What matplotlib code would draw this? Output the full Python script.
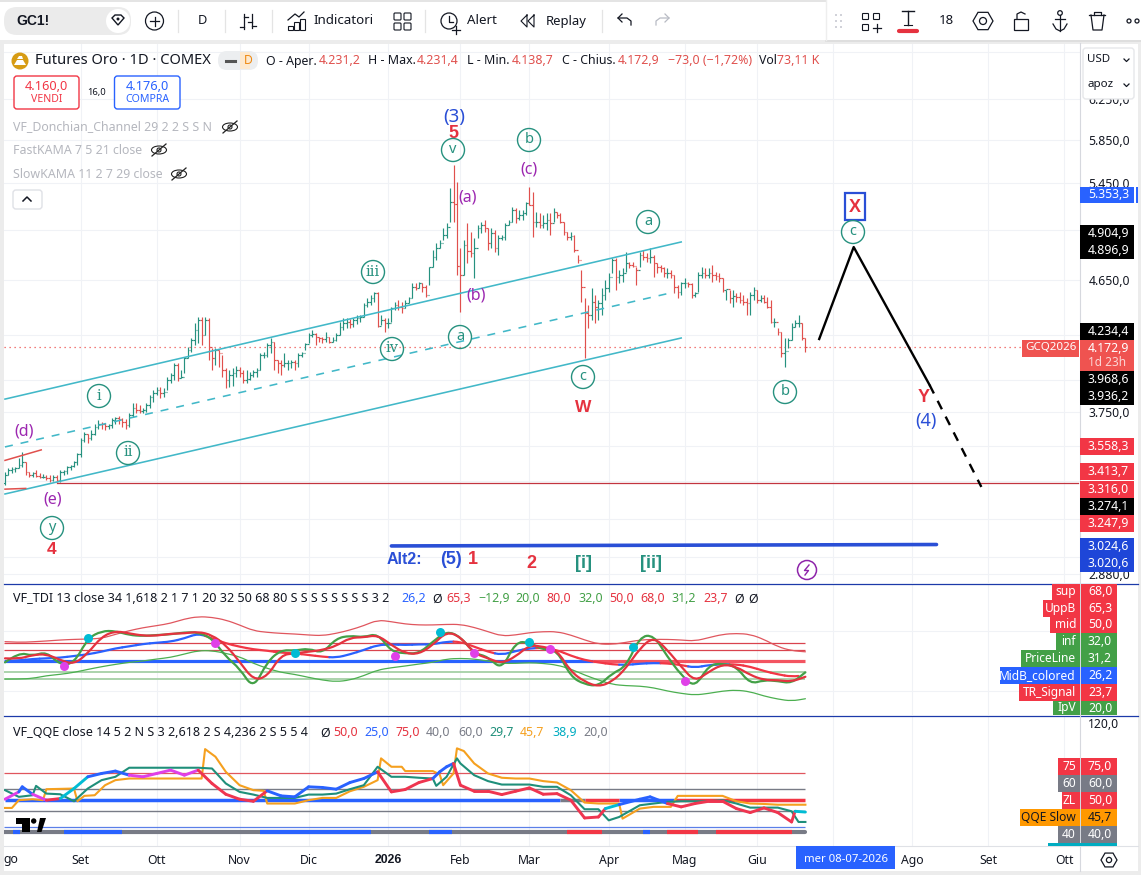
import numpy as np
import matplotlib
matplotlib.use("Agg")
import matplotlib.pyplot as plt
from matplotlib.patches import Rectangle, Circle, Ellipse, Polygon, FancyBboxPatch, RegularPolygon, PathPatch
from matplotlib.path import Path
from matplotlib.ticker import NullLocator, NullFormatter

plt.rcParams['font.family'] = ['Noto Sans', 'DejaVu Sans']

W, H = 1141, 875

# daily bars
highs = [3401,3420,3430,3430,3477,3515,3458,3401,3401,3411,
         3392,3388,3382,3382,3382,3382,3411,3411,3434,3440,
         3464,3505,3592,3630,3620,3640,3676,3701,3690,3684,
         3680,3711,3721,3725,3711,3705,3742,3807,3807,3793,
         3772,3803,3856,3887,3908,3908,3898,3973,3999,4061,
         4065,4016,4105,4173,4230,4335,4382,4382,4382,4370,
         4162,4162,4150,4117,4028,4016,4028,4044,4039,4016,
         4016,4005,4016,4028,4128,4139,4195,4230,4207,4083,
         4083,4128,4083,4083,4083,4132,4139,4195,4264,4288,
         4264,4241,4241,4276,4241,4241,4264,4347,4370,4370,
         4363,4370,4394,4394,4479,4516,4541,4565,4565,4394,
         4370,4370,4454,4491,4503,4491,4503,4528,4628,4628,
         4641,4628,4615,4755,4887,4940,4967,5062,5105,5405,
         5615,5465,4900,4967,5105,5035,4981,5090,5119,5133,
         5062,5062,5049,5008,5008,5105,5133,5245,5231,5217,
         5217,5288,5420,5376,5203,5189,5175,5189,5189,5231,
         5203,5189,5119,5035,5035,5008,4847,4730,4516,4467,
         4590,4541,4504,4590,4653,4704,4820,4820,4730,4742,
         4874,4794,4794,4755,4874,4887,4860,4906,4847,4781,
         4768,4755,4742,4730,4691,4615,4641,4666,4641,4628,
         4565,4717,4755,4742,4742,4768,4717,4704,4666,4578,
         4578,4578,4553,4565,4541,4516,4565,4603,4578,4541,
         4541,4528,4504,4370,4300,4276,4230,4230,4335,4358,
         4394,4335,4231.4]
lows = [3326,3382,3392,3401,3420,3430,3382,3373,3373,3370,
        3364,3364,3358,3344,3350,3344,3344,3382,3388,3411,
        3430,3440,3486,3572,3566,3582,3610,3650,3650,3644,
        3650,3656,3680,3680,3660,3650,3660,3721,3742,3742,
        3742,3752,3772,3814,3856,3835,3846,3887,3930,3951,
        3947,3962,3995,4094,4139,4184,4195,4184,4253,4083,
        4016,4050,4039,3973,3898,3908,3914,3973,3973,3930,
        3930,3951,3973,3973,4016,4094,4105,4128,4016,3995,
        3984,4039,4016,4028,4016,4039,4105,4150,4195,4241,
        4184,4207,4195,4207,4195,4207,4212,4253,4288,4300,
        4300,4311,4330,4347,4382,4454,4466,4491,4311,4323,
        4276,4300,4347,4430,4430,4406,4442,4479,4516,4578,
        4590,4565,4528,4615,4755,4807,4900,4967,4981,5119,
        5119,4691,4418,4691,4781,4834,4666,4981,5022,5035,
        4887,4900,4874,4847,4967,4967,5090,5119,5105,5133,
        5133,5175,5260,4995,5076,5062,5062,5049,5008,5119,
        5147,5105,5008,4967,4967,4874,4781,4491,4095,4300,
        4358,4335,4358,4394,4504,4565,4704,4578,4628,4641,
        4717,4742,4755,4615,4755,4807,4794,4781,4678,4704,
        4717,4678,4666,4666,4553,4516,4541,4590,4603,4516,
        4528,4565,4666,4666,4666,4641,4653,4641,4565,4504,
        4479,4455,4491,4479,4467,4394,4394,4504,4479,4491,
        4479,4443,4335,4311,4253,4106,4039,4162,4219,4311,
        4311,4219,4138.7]
closes = [3382,3411,3415,3420,3440,3458,3401,3382,3392,3377,
          3373,3373,3368,3358,3373,3354,3401,3407,3426,3434,
          3458,3500,3582,3620,3592,3620,3660,3680,3676,3664,
          3670,3701,3711,3707,3690,3670,3731,3772,3762,3758,
          3762,3793,3846,3866,3887,3866,3876,3951,3984,4050,
          3962,3973,4094,4150,4218,4288,4358,4253,4358,4173,
          4094,4150,4128,4016,3951,3984,3995,4016,3995,3951,
          3956,3984,4005,4016,4117,4117,4184,4207,4083,4061,
          4050,4061,4061,4072,4061,4117,4128,4191,4253,4260,
          4241,4230,4223,4241,4207,4218,4253,4311,4335,4347,
          4330,4358,4370,4382,4466,4491,4516,4553,4316,4358,
          4335,4335,4442,4466,4454,4442,4479,4516,4602,4590,
          4628,4603,4541,4750,4834,4900,4940,5008,5076,5288,
          5270,4760,4691,4927,4880,4860,4900,5062,5090,5062,
          4940,5022,4900,4981,4990,5090,5119,5217,5147,5175,
          5189,5274,5262,5119,5119,5090,5105,5133,5105,5203,
          5175,5119,5035,4995,5000,4887,4807,4603,4406,4394,
          4491,4455,4479,4541,4590,4678,4807,4678,4690,4704,
          4781,4768,4760,4730,4847,4830,4820,4834,4780,4755,
          4742,4704,4710,4691,4603,4565,4628,4630,4620,4541,
          4558,4691,4704,4691,4704,4691,4680,4670,4578,4585,
          4516,4530,4522,4504,4491,4479,4541,4578,4504,4516,
          4491,4455,4346,4346,4276,4128,4140,4219,4311,4335,
          4338,4230,4172.9]

month_bars = [22, 44, 68, 88, 111, 132, 152, 175, 197, 218, 240, 263, 285, 307]
month_labels = ['Set', 'Ott', 'Nov', 'Dic', '2026', 'Feb', 'Mar', 'Apr', 'Mag', 'Giu', '', 'Ago', 'Set', 'Ott']

price_ticks = [6750, 6250, 5850, 5450, 5050, 4650, 4250, 3950, 3750, 3550, 3350, 3150, 2960, 2880]
price_labels = ['', '6.250,0', '5.850,0', '5.450,0', '', '4.650,0', '', '', '3.750,0', '', '', '', '', '2.880,0']

# drawings on the price pane
channel_bars = [0, 196]
channel_upper = [3830, 4951]
channel_lower = [3280, 4232]
channel_mid_bars = [0, 194]
channel_mid = [3542, 4562]
d_line_bars = [0, 10.5]
d_line = [3465, 3525]
e_line_bars = [0, 6]
e_line = [3306, 3310]
support_bars = [15, 311]
support_level = [3338, 3338]
alt_bars = [112, 270]
alt_level = [3013, 3020]
proj_bars = [236, 246, 268]
proj_price = [4225, 4910, 3919]
proj_dash_bars = [268, 283]
proj_dash_price = [3919, 3318]
last_price = 4172.9
last_line_end = 295

# VF_TDI, one reading every 4 bars
tdi_bars = list(range(0, 233, 4))
tdi_upper = [82.2,81,82,83.3,85,86,86.6,87.7,94.4,100.5,105.5,108.9,112.8,120,124,122.8,118.3,110,100.5,97.7,
             96,95,93.3,92.2,96,101.6,108.9,118.3,115.5,111.6,110,
             110,111,111,106,98.9,91.6,93.3,97.2,98.9,98.9,93.3,85,78.3,77.7,81,85,86,86,85,83.3,88.9,94.4,96,94.4,86,73.8,67.2,65.3]
tdi_lower = [19.9,19.9,21,25.5,27.7,31,36,40.5,44.4,47.7,50,53.3,56,61.6,67.2,67.2,62.7,57.2,46,37.7,
             31,27.7,22.7,18.2,15.5,18.2,25.5,35,38.8,41.6,45,
             47.7,53.3,54.4,53.3,50,46,46,47.1,46,43.3,36.6,26.6,18.2,11,8.8,8.2,5.4,-0.1,-4,-6.8,-4,-0.1,1.6,-1.2,-8.4,-13.5,-16.8,-12.9]
tdi_mid = [49.9,51,53.3,54.4,55.5,58.3,61.1,65.5,71,74.4,78.3,80.5,82.2,87.7,96,87.7,79.4,73.8,69.4,67.2,
           63.8,62.7,60,57.2,55.5,61.1,68.3,76.6,77.7,76.6,77.7,
           77.7,82.2,82.2,73.8,65.5,60,66.6,71,72.2,68.3,58.8,51.6,47.7,44.4,43.3,45.5,46.6,46,43.3,38.8,43.3,44.4,44.4,40.5,33.3,27.7,23.8,26.2]
tdi_price = [47.7,64.4,58.3,65.5,43.3,46,87.7,100,100,93.3,91.6,93.3,94.4,97.7,97.7,87.7,57.2,37.7,3.2,48.8,
             68.3,67.2,71,62.7,87.7,92.2,89.4,96,65.5,62.7,62.7,
             82,100,90.5,62.7,57.2,35,82,81,68.3,68.3,23.8,11,8.2,29.4,40.5,90.5,93.3,57.2,26.6,5.4,43.3,46,40.5,11.6,18.2,16.6,12.7,31.2]
tdi_signal = [54.4,53.3,60,61.6,51.6,44.4,62.7,90.5,100,96,92.2,92.2,95.5,96,98.9,93.3,76.6,48.8,18.2,23.8,
              60,62.7,65.5,68.3,75,88.9,89.4,93.3,76.6,62.7,61.6,
              76.6,98.9,90.5,62.7,54.4,46,57.2,76.6,73.8,68.3,32.2,15.5,7.1,15.5,37.7,71,90.5,68.3,40.5,15.5,32.2,44.4,40.5,26.6,18.2,18.2,15.5,23.7]
tdi_cross_up_bars = [24, 84, 126, 152, 182]
tdi_cross_up = [88.8, 62.7, 98.9, 81, 73.8]
tdi_cross_dn_bars = [17, 61, 113, 136, 158, 197]
tdi_cross_dn = [41.6, 79.4, 58.3, 62.7, 69.4, 16]

# VF_QQE
rsi_bars = [0,4,5,8,12,16,20,24,28,32,36,40,44,48,52,56,60,64,68,72,76,80,84,88,92,96,100,104,108,112,
            116,120,124,126,128,130,132,136,140,144,148,152,156,160,164,168,172,174,178,184,187,192,196,200,204,208,212,216,220,224,228,229,232]
rsi_ma = [50.8,57.6,62.3,55.4,49.9,51.4,60.7,71.6,74.7,76.9,73.1,71.6,74.7,77.8,73.1,77.8,65.4,55.4,50.8,48.9,
          58.6,53.9,53,62.3,61.7,60.1,66.3,70,76.2,57.6,59.8,66.3,70,76.2,80.9,84,63.8,58.2,58.2,55.1,
          58.2,61.3,55.4,56,49.9,33.4,34.3,42.1,45.8,50.8,53,46.8,43.7,46.8,48.9,48.9,42.1,38.4,42.7,38.4,29.7,39.6,38.9]
rsi_state_ends = [3.5, 8, 11, 17, 22, 34, 57.5, 75, 106, 108.5, 123.6, 130, 174, 178, 192, 229, 233]
rsi_state_colors = ['#e040e8', '#2962ff', '#e040e8', '#ef3550', '#00bcd4', '#2962ff', '#e040e8', '#ef3550', '#2962ff',
                    '#e040e8', '#ef3550', '#2962ff', '#ef3550', '#00bcd4', '#2962ff', '#ef3550', '#00bcd4']
qqe_fast_bars = [0,4,8,9,12,16,20,24,28,32,36,40,44,48,52,56,60,64,68,72,76,80,84,88,92,96,100,104,108,112,
                 116,120,124,125,128,131,132,136,140,144,148,152,156,160,164,168,172,175,178,184,188,192,196,200,204,208,212,216,220,224,228,230,232]
qqe_fast = [59.2,53,54.5,63.2,56,55.4,48.9,60.7,68.5,71.6,80,80,80,80,80,80,79.3,65.4,57.6,55.1,
            52,52,52,55.1,55.1,56,60.1,63.8,80.9,71.6,71.6,70.7,70,63.2,71.6,88.7,84,73.1,67.6,64.4,
            64.4,64.4,62.3,62.3,54.5,41.5,41.5,31.2,34.3,45.2,46.8,48.3,48.9,48.9,48.9,49.9,46.8,43,43,43,39.6,29.7,29.7]
qqe_slow_bars = [0,2,4,8,11,12,20,21,23,26,29,32,36,40,44,48,52,57,58,61,64,68,72,75,76,84,88,92,96,100,
                 104,108,109,112,115,116,120,124,126,127,130,131,133,136,140,144,148,152,156,160,164,168,172,178,179,184,188,193,195,200,
                 204,208,212,216,220,224,232]
qqe_slow = [42.7,42.7,49.9,50.8,49.9,60.1,60.7,48.9,53.9,54.5,63.8,68.5,70,70,70,70,70,70,97.3,90.2,
            76.2,63.8,59.2,58.6,46.8,46.8,49.9,52,52,58.2,62.3,68.5,88.7,80.9,80.9,76.9,76.9,76.9,73.8,63.8,
            74.7,98,95.5,84,74.7,70.7,70,70,67.6,66.3,59.2,47.7,46.8,46.8,32.8,42.1,43.7,43.7,53.9,53.9,
            53.9,53.9,48.9,46.8,46.4,45.7,45.7]
# colour stretches of the 50 line and of the bottom strip, as (first bar, last bar)
zl_blue = [(0, 161), (178, 194)]
zl_gray = [(161, 168)]
zl_red = [(168, 178), (194, 232)]
strip_blue = [(2.4, 4.3), (17, 34), (74, 106), (123, 129.5), (185, 187)]
strip_red = [(163, 173), (192, 201), (206, 228)]

TEAL = '#26917f'
RED = '#e0504d'
CYAN = '#42b8c8'
GRID = '#f0f2f6'
PANE_LINE = '#1c3aa9'
BOLD = ['Liberation Sans', 'DejaVu Sans']

fig = plt.figure(figsize=(W / 100, H / 100), dpi=100, facecolor='white')


def px_axes(x0, y0, x1, y1, **kw):
    return fig.add_axes([x0 / W, 1 - y1 / H, (x1 - x0) / W, (y1 - y0) / H], **kw)


def bar_x(x):
    return (x - 5) / 3.45


def clean(ax):
    for s in ax.spines.values():
        s.set_visible(False)
    ax.set_xlim(bar_x(4), bar_x(1080))
    ax.set_xticks(month_bars)
    ax.grid(axis='x', color=GRID, lw=0.8)
    ax.set_axisbelow(True)
    ax.tick_params(length=0)
    ax.set_xticklabels([])


def curve(ax, xs, ys, color, lw, z):
    # rounded corners: each reading is a quadratic control point
    pts = np.column_stack((xs, ys))
    verts = [pts[0]]
    codes = [Path.MOVETO]
    for j in range(1, len(pts) - 1):
        verts += [pts[j], (pts[j] + pts[j + 1]) / 2]
        codes += [Path.CURVE3, Path.CURVE3]
    verts.append(pts[-1])
    codes.append(Path.LINETO)
    ax.add_patch(PathPatch(Path(verts, codes), facecolor='none', edgecolor=color, lw=lw, zorder=z, capstyle='round'))


# price pane
ax = px_axes(4, 42, 1080, 583)
clean(ax)
ax.set_yscale('log')
ax.set_ylim(2836, 6864)
ax.yaxis.set_minor_locator(NullLocator())
ax.yaxis.set_minor_formatter(NullFormatter())
ax.yaxis.tick_right()
ax.set_yticks(price_ticks)
ax.set_yticklabels(price_labels, fontsize=8.8, color='#131722')
ax.tick_params(axis='y', length=0, pad=6)
ax.grid(axis='y', color=GRID, lw=0.8)

n = len(closes)
bars = np.arange(n)
closes_a = np.array(closes)
opens = np.r_[3340, closes_a[:-1]]
opens[-1] = 4231.2
colors = [TEAL if c >= o else RED for o, c in zip(opens, closes_a)]
ax.vlines(bars, lows, highs, colors=colors, lw=0.85, zorder=3)
ax.hlines(opens, bars - 0.45, bars, colors=colors, lw=0.85, zorder=3)
ax.hlines(closes_a, bars, bars + 0.45, colors=colors, lw=0.85, zorder=3)

ax.plot(channel_bars, channel_upper, color=CYAN, lw=1.15, zorder=4)
ax.plot(channel_bars, channel_lower, color=CYAN, lw=1.15, zorder=4)
ax.plot(channel_mid_bars, channel_mid, color=CYAN, lw=1.15, ls=(0, (5, 5)), zorder=4)
ax.plot(d_line_bars, d_line, color=RED, lw=1.1, zorder=4)
ax.plot(e_line_bars, e_line, color=RED, lw=1.1, zorder=4)
ax.plot(support_bars, support_level, color='#c2343f', lw=0.9, zorder=4)
ax.plot(alt_bars, alt_level, color='#2a4fd6', lw=2.6, zorder=4, solid_capstyle='round')
ax.plot(proj_bars, proj_price, color='black', lw=1.7, zorder=5)
ax.plot(proj_dash_bars, proj_dash_price, color='black', lw=1.7, ls=(0, (4, 3.5)), zorder=5)
ax.hlines(last_price, bar_x(4), last_line_end, colors='#ef5350', lw=0.9, ls=(0, (1, 3)), zorder=2)

# TDI pane
ax2 = px_axes(4, 584, 1080, 715)
clean(ax2)
ax2.set_ylim(-40, 178.3)
ax2.set_yticks([0, 100])
ax2.set_yticklabels([])
ax2.grid(axis='y', color=GRID, lw=0.8)
x_end = n - 1
for lev, col, lw in [(80, '#d9434e', 0.9), (68, '#d9434e', 0.9), (32, '#a5d0a6', 1.3), (20, '#a5d0a6', 1.3)]:
    ax2.hlines(lev, bar_x(4), x_end, colors=col, lw=lw, zorder=2)
ax2.hlines(50, bar_x(4), 170.5, colors='#2962ff', lw=2.3, zorder=2)
ax2.hlines(50, 170.5, x_end, colors='#f23645', lw=2.3, alpha=0.85, zorder=2)
curve(ax2, tdi_bars, tdi_upper, '#e0565e', 0.9, 3)
curve(ax2, tdi_bars, tdi_lower, '#4caf50', 0.9, 3)
for i in range(1, len(tdi_bars) - 1):
    # same rounding as curve(), one piece per reading so the colour can change
    x0, x1, x2 = tdi_bars[i - 1:i + 2]
    y0, y1, y2 = tdi_mid[i - 1:i + 2]
    p = Path([((x0 + x1) / 2, (y0 + y1) / 2), (x1, y1), ((x1 + x2) / 2, (y1 + y2) / 2)], [Path.MOVETO, Path.CURVE3, Path.CURVE3])
    col = '#2962ff' if y2 >= y0 else '#f23645'
    ax2.add_patch(PathPatch(p, facecolor='none', edgecolor=col, lw=1.6, zorder=4, capstyle='round'))
curve(ax2, tdi_bars, tdi_price, '#43a047', 1.6, 5)
curve(ax2, tdi_bars, tdi_signal, '#e5323f', 1.6, 6)
ax2.scatter(tdi_cross_up_bars, tdi_cross_up, s=42, color='#00bcd4', zorder=7, lw=0)
ax2.scatter(tdi_cross_dn_bars, tdi_cross_dn, s=42, color='#e040e8', zorder=7, lw=0)

# QQE pane
ax3 = px_axes(4, 716, 1080, 846)
clean(ax3)
ax3.set_ylim(7.4, 128)
ax3.set_yticks([])
ax3.tick_params(axis='x', pad=6, labelsize=8.8, labelcolor='#131722', length=0)
ax3.set_xticklabels(month_labels)
ax3.get_xticklabels()[4].set_fontweight('bold')
ax3.get_xticklabels()[4].set_family(BOLD)
ax3.hlines(75, bar_x(4), x_end, colors='#e0565e', lw=0.9, zorder=2)
ax3.hlines([60, 40], bar_x(4), x_end, colors='#787b86', lw=1.0, zorder=2)
ax3.hlines(25, bar_x(4), x_end, colors='#5b7fe8', lw=0.9, zorder=2)
for spans, col in [(zl_blue, '#2962ff'), (zl_gray, '#787b86'), (zl_red, '#f23645')]:
    for a, b in spans:
        ax3.plot([a, b], [50, 50], color=col, lw=2.5, zorder=2, solid_capstyle='butt')
ax3.plot([bar_x(4), x_end], [20, 20], color='#787b86', lw=3, zorder=2, solid_capstyle='round')
for spans, col in [(strip_blue, '#2962ff'), (strip_red, '#f23645')]:
    for a, b in spans:
        ax3.plot([a, b], [20, 20], color=col, lw=3, zorder=3, solid_capstyle='butt')
ax3.plot(qqe_slow_bars, qqe_slow, color='#f5a01f', lw=1.5, zorder=4)
ax3.plot(qqe_fast_bars, qqe_fast, color='#1f8f7a', lw=1.5, zorder=5)
for i in range(len(rsi_bars) - 1):
    mid = (rsi_bars[i] + rsi_bars[i + 1]) / 2
    col = rsi_state_colors[np.searchsorted(rsi_state_ends, mid)]
    ax3.plot(rsi_bars[i:i + 2], rsi_ma[i:i + 2], color=col, lw=2.1, zorder=6, solid_capstyle='round')

# overlay in screen pixels for the app chrome and the wave labels
ui = fig.add_axes([0, 0, 1, 1], zorder=20)
ui.set_xlim(0, W)
ui.set_ylim(H, 0)
ui.axis('off')
ui.patch.set_alpha(0)


def txt(x, y, s, size=8.6, color='#131722', ha='left', va='center', **kw):
    if kw.get('weight') == 'bold':
        kw['family'] = BOLD
    return ui.text(x, y, s, fontsize=size, color=color, ha=ha, va=va, **kw)


def rect(x0, y0, x1, y1, color, z=1, **kw):
    ui.add_patch(Rectangle((x0, y0), x1 - x0, y1 - y0, facecolor=color, edgecolor='none', zorder=z, **kw))


def rbox(x0, y0, x1, y1, fc, ec='none', r=3, lw=1, z=1):
    ui.add_patch(FancyBboxPatch((x0 + r, y0 + r), x1 - x0 - 2 * r, y1 - y0 - 2 * r,
                                boxstyle='round,pad=%s' % r, facecolor=fc, edgecolor=ec, lw=lw, zorder=z))


def ln(xs, ys, color='#131722', lw=1.0, z=3, **kw):
    ui.plot(xs, ys, color=color, lw=lw, zorder=z, **kw)


def circled(x, y, s, r=11.5, serif=False):
    ui.add_patch(Circle((x, y), r, facecolor='none', edgecolor=TEAL, lw=1.0, zorder=6))
    fam = ['DejaVu Serif'] if serif else ['Noto Sans']
    txt(x, y - 0.5, s, size=10.5, color=TEAL, ha='center', family=fam, zorder=7)


def eye(x, y):
    ui.add_patch(Ellipse((x, y), 15, 8, facecolor='none', edgecolor='#222222', lw=0.8, zorder=3))
    ui.add_patch(Circle((x, y), 2, facecolor='none', edgecolor='#222222', lw=0.8, zorder=3))
    ln([x - 7, x + 7], [y + 6, y - 6], '#222222', 0.9)


# frame
rect(0, 0, W, 1.5, '#e4e4e4')
rect(0, 40, W, 43.5, '#ececec')
rect(0, 40, 4, H, '#ececec')
rect(1138, 40, W, H, '#ececec')
rect(0, 871, W, H, '#ececec')
ln([1080, 1080], [43, 871], '#d6d8de', 0.8)
ln([4, 1138], [583.5, 583.5], PANE_LINE, 0.9, z=2)
ln([4, 1138], [715.5, 715.5], PANE_LINE, 0.9, z=2)
ln([4, 1138], [846, 846], '#dfe1e6', 0.8)

# toolbar
rbox(4, 7, 131, 35, '#ebebeb', r=13)
txt(16, 21, 'GC1!', size=10, weight='bold')
ui.add_patch(Circle((118, 21), 12, facecolor='white', edgecolor='none', zorder=2))
ui.add_patch(Polygon([(112, 18), (115, 15), (121, 15), (124, 18), (118, 25)], closed=True, facecolor='none', edgecolor='#131722', lw=1, zorder=3))
ui.add_patch(Circle((118, 19), 1.5, facecolor='#131722', zorder=4))
ui.add_patch(Circle((154.5, 21), 9, facecolor='none', edgecolor='#131722', lw=0.9, zorder=3))
ln([150, 159], [21, 21], lw=0.9)
ln([154.5, 154.5], [16.5, 25.5], lw=0.9)
for sx in [178, 225, 272, 425, 602]:
    ln([sx, sx], [10, 32], '#e4e4e4', 0.9)
txt(202, 21, 'D', ha='center', size=9.2)
ln([244, 244], [14, 29], lw=0.9)
ln([240, 244], [27, 27], lw=0.9)
ln([244, 248], [17, 17], lw=0.9)
ln([252, 252], [14, 28], lw=0.9)
ln([248, 252], [22, 22], lw=0.9)
ln([252, 256], [26, 26], lw=0.9)
for bx, by, bh in [(288, 26, 4), (294, 22, 8), (300, 19, 11)]:
    ui.add_patch(Rectangle((bx, by), 5, bh, facecolor='none', edgecolor='#131722', lw=0.8, zorder=3))
ln([288, 295, 299, 304], [20, 14, 17, 12], lw=0.9)
txt(313, 21, 'Indicatori', size=9.6)
for qx, qy in [(394, 13), (404, 13), (394, 23), (404, 23)]:
    ui.add_patch(FancyBboxPatch((qx + 1, qy + 1), 5, 5, boxstyle='round,pad=1', facecolor='none', edgecolor='#131722', lw=0.8, zorder=3))
ui.add_patch(Circle((449, 21), 8, facecolor='none', edgecolor='#131722', lw=0.9, zorder=3))
ln([449, 449, 453], [16, 22, 22], lw=0.9)
ln([452, 460], [30, 30], lw=0.9)
ln([456, 456], [26, 34], lw=0.9)
txt(467, 21, 'Alert', size=9.6)
ln([527, 521, 527, 527], [15, 21, 27, 15], lw=0.8)
ln([534, 528, 534, 534], [15, 21, 27, 15], lw=0.8)
txt(546, 21, 'Replay', size=9.4)
ln([618, 627, 631, 631], [18, 18, 21, 25], lw=0.9)
ln([622, 618, 622], [14, 18, 22], lw=0.9)
ln([669, 660, 656, 656], [18, 18, 21, 25], '#b8bbc4', 0.9)
ln([665, 669, 665], [14, 18, 22], '#b8bbc4', 0.9)

# floating drawing toolbar
rect(826, 0, W, 40, 'white', z=2)
ln([826, W], [40.5, 40.5], '#dcdcdc', 1.2, z=2)
ln([826, 826], [0, 40], '#eeeeee', 1, z=2)
for dx in [836, 841]:
    for dy in [15, 21, 27]:
        ui.add_patch(Circle((dx, dy), 1, facecolor='#c5c7cf', zorder=3))
for qx, qy in [(863, 14), (874, 14), (863, 25)]:
    ui.add_patch(FancyBboxPatch((qx, qy), 5, 5, boxstyle='round,pad=0.5', facecolor='none', edgecolor='#131722', lw=0.8, zorder=3))
ln([873, 881], [28, 28], lw=0.9)
ln([877, 877], [24, 32], lw=0.9)
ln([902, 914], [11, 11], lw=1)
ln([908, 908], [11, 25], lw=1)
ln([904, 912], [25, 25], lw=0.8)
ln([899, 917], [31, 31], '#e5323f', 3, solid_capstyle='round')
txt(946, 21, '18', ha='center', size=9.5)
ui.add_patch(RegularPolygon((983, 21), 6, radius=10, orientation=np.pi / 6, facecolor='none', edgecolor='#131722', lw=0.9, zorder=3))
ui.add_patch(Circle((983, 21), 3.5, facecolor='none', edgecolor='#131722', lw=0.9, zorder=3))
ui.add_patch(Rectangle((1014, 19), 14, 11, facecolor='none', edgecolor='#131722', lw=0.9, zorder=3))
ln([1017, 1017, 1021, 1025], [19, 14, 12, 14], lw=0.9)
ui.add_patch(Circle((1060, 13), 2.3, facecolor='none', edgecolor='#131722', lw=0.9, zorder=3))
ln([1060, 1060], [15, 31], lw=0.9)
ln([1053, 1056, 1060, 1064, 1067], [24, 29, 31, 29, 24], lw=0.9)
ln([1055, 1065], [19, 19], lw=0.9)
ln([1089, 1105], [15, 15], lw=0.9)
ln([1091, 1093, 1102, 1104], [15, 30, 30, 15], lw=0.9)
ln([1094, 1094, 1101, 1101], [15, 12, 12, 15], lw=0.9)
for dx in [1129, 1137]:
    ui.add_patch(Circle((dx, 21), 2, facecolor='none', edgecolor='#131722', lw=0.9, zorder=3))

# legend rows
ui.add_patch(Circle((20, 61), 8.5, facecolor='#d79c14', edgecolor='none', zorder=2))
ui.add_patch(Polygon([(14, 65), (17, 60), (23, 60), (26, 65)], closed=True, facecolor='white', zorder=3))
ui.add_patch(Polygon([(17, 59), (19, 56), (22, 56), (23, 59)], closed=True, facecolor='white', zorder=3))
txt(35, 61, 'Futures Oro · 1D · COMEX', size=10.6)
rbox(218, 51, 258, 70, '#eceef0', r=9)
rect(240, 52, 250, 69, '#fde9cf', z=2)
ln([226, 235], [61, 61], '#555555', 2.2)
txt(248, 61, 'D', size=8.8, color='#ef8a12', ha='center', zorder=4)
ohlc_text = [(266, 'O - Aper.', '#131722'), (318.5, '4.231,2', RED), (368, 'H - Max.', '#131722'), (417, '4.231,4', RED),
             (467, 'L - Min.', '#131722'), (511.6, '4.138,7', RED), (562, 'C - Chius.', '#131722'), (618, '4.172,9', RED),
             (668, '−73,0 (−1,72%)', RED), (759, 'Vol', '#131722'), (777, '73,11 K', RED)]
for lx, s, col in ohlc_text:
    txt(lx, 61, s, size=8.9, color=col)
rbox(14, 76, 79, 109, 'white', '#f23645')
txt(46.5, 86, '4.160,0', size=9.2, color='#f23645', ha='center')
txt(46.5, 100, 'VENDI', size=7.6, color='#f23645', ha='center')
txt(97, 93, '16,0', size=6.8, ha='center')
rbox(114.5, 76, 180, 109, 'white', '#2962ff')
txt(147, 86, '4.176,0', size=9.2, color='#2962ff', ha='center')
txt(147, 100, 'COMPRA', size=7.6, color='#2962ff', ha='center')
hidden = [(127, 'VF_Donchian_Channel 29 2 2 S S N', 230), (150, 'FastKAMA 7 5 21 close', 159), (174, 'SlowKAMA 11 2 7 29 close', 179)]
for hy, s, ex in hidden:
    txt(13, hy, s, size=8.9, color='#b5b7be')
    eye(ex, hy)
rbox(13, 190, 42, 209, 'white', '#dfe1e6')
ln([23, 27, 31], [201, 197, 201], lw=1.1)
txt(13, 599, 'VF_TDI 13 close 34 1,618 2 1 7 1 20 32 50 68 80 S S S S S S S S 3 2', size=9.05)
tdi_vals = [(401, '26,2', '#2962ff'), (432, 'Ø', '#131722'), (446, '65,3', '#e5323f'), (478, '−12,9', '#43a047'), (515, '20,0', '#43a047'),
            (546, '80,0', '#e5323f'), (578, '32,0', '#43a047'), (609, '50,0', '#e5323f'), (640, '68,0', '#e5323f'), (671, '31,2', '#43a047'),
            (703, '23,7', '#e5323f'), (734, 'Ø', '#131722'), (748, 'Ø', '#131722')]
for lx, s, col in tdi_vals:
    txt(lx, 599, s, size=8.9, color=col)
txt(13, 733, 'VF_QQE close 14 5 2 N S 3 2,618 2 S 4,236 2 S 5 5 4', size=9.05)
qqe_vals = [(320, 'Ø', '#131722'), (333, '50,0', '#e5323f'), (364, '25,0', '#2962ff'), (395, '75,0', '#e5323f'), (426, '40,0', '#787b86'),
            (458, '60,0', '#787b86'), (489, '29,7', '#1f8f7a'), (520, '45,7', '#f5a01f'), (552, '38,9', '#00acc1'), (583, '20,0', '#787b86')]
for lx, s, col in qqe_vals:
    txt(lx, 733, s, size=8.9, color=col)

# USD box
rbox(1083, 48, 1134, 99, 'white', '#e6e7ea', z=5)
txt(1087, 60, 'USD', size=8.3, zorder=6)
txt(1087, 85, 'apoz', size=8.3, zorder=6)
for cy in [60, 85]:
    ln([1124, 1126.5, 1129], [cy - 1, cy + 1.5, cy - 1], lw=0.9, z=6)

# wave labels
txt(454, 117, '(3)', size=13.5, color='#2a4fd6', ha='center')
txt(453, 134, '5', size=13, color='#e5323f', ha='center', weight='bold')
for cx, cy, s, serif in [(453, 150, 'v', False), (529, 140, 'b', False), (373, 272, 'iii', True), (392, 349, 'iv', True),
                         (460, 337, 'a', False), (99, 396, 'i', True), (128, 453, 'ii', True), (52, 528, 'y', False),
                         (648, 222, 'a', False), (583, 377, 'c', False), (785, 392, 'b', False), (853, 232, 'c', False)]:
    circled(cx, cy, s, serif=serif)
for cx, cy, s in [(529, 169, '(c)'), (468, 198, '(a)'), (476, 295, '(b)'), (24, 431, '(d)'), (53, 500, '(e)')]:
    txt(cx, cy, s, size=11.5, color='#9c27b0', ha='center')
txt(52, 550, '4', size=12.5, color='#e5323f', ha='center', weight='bold')
txt(583, 407, 'W', size=12.5, color='#e5323f', ha='center', weight='bold')
ui.add_patch(Rectangle((845, 193), 20, 27, facecolor='white', edgecolor='#2a4fd6', lw=1.6, zorder=5))
txt(855, 207, 'X', size=13, color='#e5323f', ha='center', weight='bold', zorder=6)
txt(924, 397, 'Y', size=13, color='#e5323f', ha='center', weight='bold')
txt(926, 421, '(4)', size=13, color='#2a4fd6', ha='center')
txt(387, 559, 'Alt2:', size=11.5, color='#2a4fd6', weight='bold')
txt(451, 559, '(5)', size=13, color='#2a4fd6', ha='center', weight='bold')
txt(473, 559, '1', size=13, color='#e5323f', ha='center', weight='bold')
txt(531, 564, '2', size=13, color='#e5323f', ha='center', weight='bold')
txt(583, 564, '[i]', size=13, color=TEAL, ha='center', weight='bold')
txt(651, 564, '[ii]', size=13, color=TEAL, ha='center', weight='bold')
ui.add_patch(Circle((807, 570), 9.5, facecolor='white', edgecolor='#8e24aa', lw=1.1, zorder=5))
ln([809, 804.5, 808.5, 805], [565, 570.5, 570.5, 575], '#8e24aa', 1, z=6)

# right scale tags
tags = [(187, 203, '#2962ff', '5.353,3'), (225, 242, 'black', '4.904,9'), (242, 259, 'black', '4.896,9'),
        (323, 340, 'black', '4.234,4'), (371, 388, 'black', '3.968,6'), (388, 405, 'black', '3.936,2'),
        (438, 455, '#f23645', '3.558,3'), (463, 480, '#f23645', '3.413,7'), (481, 498, '#f23645', '3.316,0'),
        (498, 515, 'black', '3.274,1'), (515, 532, '#f23645', '3.247,9'), (538, 555, '#1e46d8', '3.024,6'),
        (555, 572, '#1e46d8', '3.020,6')]
for y0, y1, col, s in tags:
    rect(1080, y0, 1134, y1, col, z=5)
    txt(1088, (y0 + y1) / 2, s, size=8.8, color='white', zorder=6)
rect(1136, 187, 1138, 203, '#2962ff', z=5)
rect(1080, 340, 1134, 371, '#ef5350', z=5)
txt(1088, 348.5, '4.172,9', size=8.8, color='white', zorder=6)
txt(1088, 362, '1d 23h', size=8.5, color='#fbd5d4', zorder=6)
rect(1022, 340, 1079, 357, '#ef5350', z=5)
txt(1050.5, 348, 'GCQ2026', size=8.3, color='white', ha='center', zorder=6)

pane_tags = [(583.5, 600, '#f23645', '68,0', 'sup', 1052), (600, 617, '#f23645', '65,3', 'UppB', 1043), (617, 633, '#f23645', '50,0', 'mid', 1050),
             (633, 650, '#43a047', '32,0', 'inf', 1056), (650, 667, '#43a047', '31,2', 'PriceLine', 1021), (667, 684, '#2962ff', '26,2', 'MidB_colored', 1000),
             (684, 701, '#f23645', '23,7', 'TR_Signal', 1019), (701, 715, '#43a047', '20,0', 'IpV', 1053),
             (758, 775, '#f23645', '75,0', '75', 1058), (775, 792, '#787b86', '60,0', '60', 1058), (792, 809, '#f23645', '50,0', 'ZL', 1062),
             (826, 843, '#787b86', '40,0', '40', 1058)]
for y0, y1, col, val, name, left in pane_tags:
    rect(1080.5, y0, 1117, y1, col, z=5)
    rect(left, y0, 1079.5, y1, col, z=5)
    txt(1088, (y0 + y1) / 2, val, size=8.8, color='white', zorder=6)
    txt(1076, (y0 + y1) / 2, name, size=8.6, color='white', ha='right', zorder=6)
rect(1080.5, 809, 1117, 826, '#ff9800', z=5)
rect(1020, 809, 1079.5, 826, '#ff9800', z=5)
txt(1088, 817.5, '45,7', size=8.8, color='#131722', zorder=6)
txt(1076, 817.5, 'QQE Slow', size=8.6, color='#131722', ha='right', zorder=6)
rect(1048, 843, 1117, 846, '#00acc1', z=5)
txt(1088, 725, '120,0', size=8.8, zorder=6)

# bottom axis
txt(3, 859, 'go', size=8.8)
rect(796, 846, 895, 869, '#2962ff', z=5)
txt(845.5, 859, 'mer 08-07-2026', size=8.2, color='white', ha='center', zorder=6)
ui.add_patch(RegularPolygon((1109, 860), 6, radius=8, orientation=np.pi / 6, facecolor='none', edgecolor='#131722', lw=0.9, zorder=3))
ui.add_patch(Circle((1109, 860), 2.6, facecolor='none', edgecolor='#131722', lw=0.9, zorder=3))

# logo
ui.add_patch(Polygon([(16, 818), (30, 818), (30, 832), (21.5, 832), (21.5, 824), (16, 824)], closed=True, facecolor='black', zorder=8))
ui.add_patch(Circle((33.7, 821), 2.7, facecolor='black', zorder=8))
ui.add_patch(Polygon([(37, 832), (41.5, 832), (46, 818), (40, 818)], closed=True, facecolor='black', zorder=8))

fig.savefig('out.png', dpi=100)
